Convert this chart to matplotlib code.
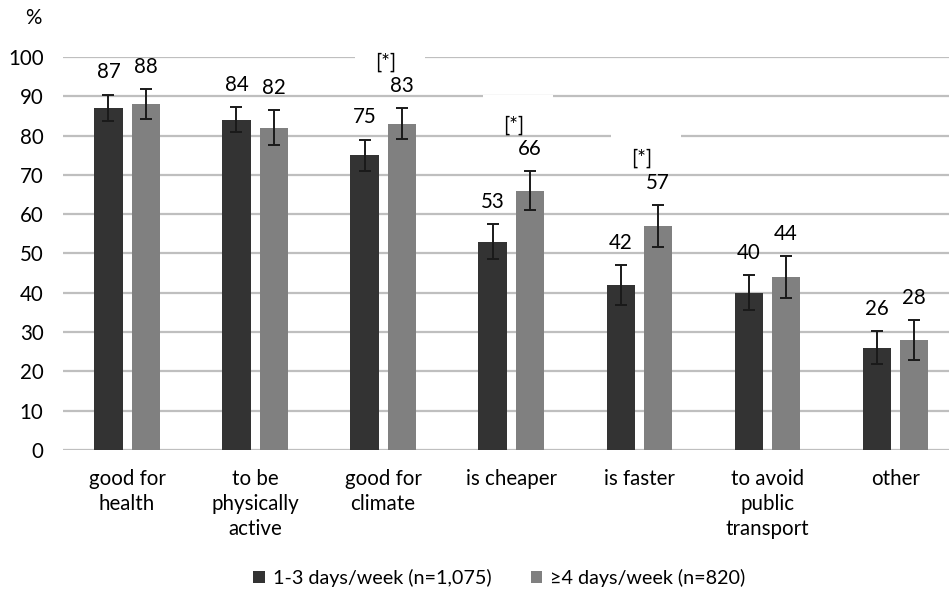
import matplotlib
matplotlib.use("Agg")
from matplotlib import pyplot as plt
import numpy as np

categories = ["good for\nhealth", "to be\nphysically\nactive", "good for\nclimate",
              "is cheaper", "is faster", "to avoid\npublic\ntransport", "other"]
low_freq = [87, 84, 75, 53, 42, 40, 26]
high_freq = [88, 82, 83, 66, 57, 44, 28]
low_err = [3.4, 3.2, 4.0, 4.5, 5.0, 4.5, 4.2]
high_err = [3.8, 4.5, 3.9, 4.9, 5.4, 5.3, 5.0]
significant = [False, False, True, True, True, False, False]
series_labels = ["1-3 days/week (n=1,075)", "\u22654 days/week (n=820)"]

plt.rcParams['font.family'] = ['Lato', 'DejaVu Sans']
fs = 14.8

fig = plt.figure(figsize=(9.49, 5.91), dpi=100)
ax = fig.add_axes([0.0664, 0.2386, 0.9336, 0.665])

x = np.arange(len(categories))
w = 0.22
off = 0.145
dark = "#333333"
light = "#808080"

b1 = ax.bar(x - off, low_freq, w, color=dark, zorder=3, label=series_labels[0])
b2 = ax.bar(x + off, high_freq, w, color=light, zorder=3, label=series_labels[1])
ekw = dict(fmt="none", ecolor="#1a1a1a", elinewidth=1.4, capsize=4, capthick=1.4, zorder=4)
ax.errorbar(x - off, low_freq, yerr=low_err, **ekw)
ax.errorbar(x + off, high_freq, yerr=high_err, **ekw)

for xs, vals, errs in [(x - off, low_freq, low_err), (x + off, high_freq, high_err)]:
    for xi, v, e in zip(xs, vals, errs):
        ax.annotate(str(v), (xi, v + e), xytext=(0, 16), textcoords="offset points",
                    ha="center", va="center", fontsize=fs, zorder=5)

# significance markers, with white patches that break the gridlines
for i, sig in enumerate(significant):
    if not sig:
        continue
    top = max(low_freq[i] + low_err[i], high_freq[i] + high_err[i])
    ax.annotate(" " * 11, (x[i], top), xytext=(5, 43), textcoords="offset points",
                ha="center", va="center", fontsize=fs, zorder=2.5,
                bbox=dict(boxstyle="square,pad=0.3", fc="white", ec="none"))
    ax.annotate("[*]", (x[i], top), xytext=(2, 33), textcoords="offset points",
                ha="center", va="center", fontsize=fs, zorder=5)

ax.set_xlim(-0.5, 6.42)
ax.set_ylim(0, 100)
ax.set_yticks(range(0, 101, 10))
ax.set_xticks(x)
ax.set_xticklabels(categories, linespacing=1.3)
ax.tick_params(axis="both", length=0, labelsize=fs)
ax.tick_params(axis="x", pad=14)
ax.tick_params(axis="y", pad=14)
ax.yaxis.grid(True, color="#bfbfbf", linewidth=1.6, zorder=0)
ax.set_axisbelow(True)
for s in ax.spines.values():
    s.set_visible(False)

fig.text(0.035, 0.97, "%", ha="center", va="center", fontsize=fs)

fig.legend(handles=[b1, b2], labels=series_labels, loc="center", bbox_to_anchor=(0.526, 0.022),
           ncol=2, frameon=False, handlelength=0.6, handleheight=0.6, handletextpad=0.4,
           columnspacing=2.0, fontsize=14.2)

fig.savefig("out.png", dpi=100)
